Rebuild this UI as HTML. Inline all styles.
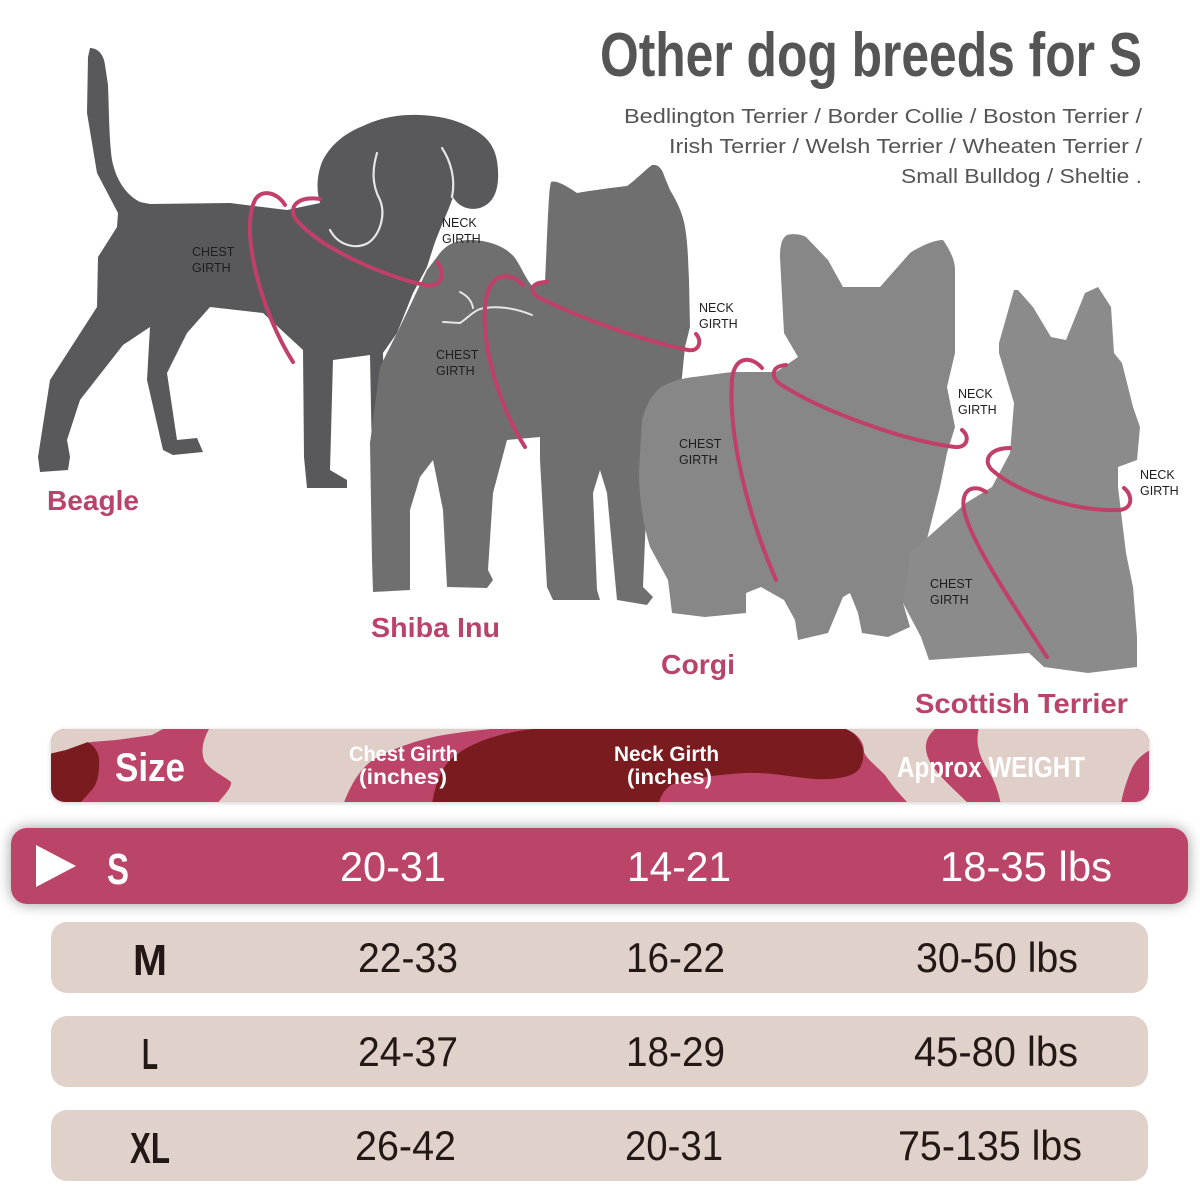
<!DOCTYPE html>
<html>
<head>
<meta charset="utf-8">
<style>
html,body{margin:0;padding:0;background:#fff;}
svg{display:block;}
</style>
</head>
<body>
<svg width="1200" height="1200" viewBox="0 0 1200 1200" xmlns="http://www.w3.org/2000/svg" font-family="'Liberation Sans', sans-serif">
<defs>
  <clipPath id="hdr"><rect x="51" y="729" width="1098" height="73" rx="14"/></clipPath>
  <filter id="sh" x="-5%" y="-40%" width="110%" height="180%">
    <feDropShadow dx="0" dy="0" stdDeviation="7" flood-color="#000" flood-opacity="0.4"/>
  </filter>
  <filter id="sh2" x="-5%" y="-40%" width="110%" height="180%">
    <feDropShadow dx="0" dy="1" stdDeviation="2" flood-color="#000" flood-opacity="0.2"/>
  </filter>
</defs>
<rect width="1200" height="1200" fill="#fff"/>

<!-- Title -->
<text x="600" y="76" font-size="62" font-weight="bold" fill="#555" textLength="542" lengthAdjust="spacingAndGlyphs">Other dog breeds for S</text>
<g font-size="20" fill="#555" text-anchor="end">
  <text x="1142" y="123" textLength="518" lengthAdjust="spacingAndGlyphs">Bedlington Terrier / Border Collie / Boston Terrier /</text>
  <text x="1142" y="153" textLength="473" lengthAdjust="spacingAndGlyphs">Irish Terrier / Welsh Terrier / Wheaten Terrier /</text>
  <text x="1142" y="183" textLength="241" lengthAdjust="spacingAndGlyphs">Small Bulldog / Sheltie .</text>
</g>

<!-- Beagle -->
<path fill="#59595b" d="M90,48 C98,48 104,55 105,65 L108,85 C109,110 109,140 112,160 C116,180 126,195 140,202 L150,204 L230,203 L287,210 L320,203 C316,190 317,175 322,162 C330,145 345,133 363,126 C380,118 398,114 420,115 C443,116 460,121 475,130 C490,139 497,150 498,170 C499,188 495,203 480,208 C468,211 458,206 453,197 C448,212 440,228 434,245 L427,267 L413,293 L397,333 L383,353 L385,457 L372,458 L370,355 L333,360 L330,470 L347,480 L347,488 L307,488 L304,457 L303,350 L263,313 L210,307 L187,333 L167,373 L177,440 L197,438 L203,452 L173,455 L163,450 L147,380 L150,327 L123,345 L80,400 L67,440 L70,457 L68,470 L40,472 L38,457 L50,380 L97,307 L98,257 L117,227 L118,213 L97,173 L87,113 L88,57 Z"/>
<g fill="none" stroke="#e6e6e6" stroke-width="2.2" stroke-linecap="round">
  <path d="M377,153 C372,170 372,185 380,200 C386,215 380,235 368,243 C355,250 338,245 330,230"/>
  <path d="M442,148 C450,160 456,178 452,197"/>
</g>

<!-- Shiba -->
<path fill="#6f6f6f" d="M437,257 C445,245 455,240 470,240 C485,240 505,245 515,258 C522,268 525,278 533,287 L545,283 C546,260 547,235 548,215 C549,200 549,190 551,182 C556,180 565,185 577,193 C595,190 610,188 627,186 C638,178 645,170 652,165 C658,164 662,168 665,178 L670,190 C678,203 683,215 685,227 C688,245 688,260 689,280 L690,327 L685,347 L682,377 L673,443 L657,460 L647,493 L643,587 L653,597 L647,605 L617,600 L607,493 L600,470 L593,493 L597,590 L600,600 L553,600 L547,587 L540,460 L540,437 L507,440 L493,493 L488,570 L493,580 L487,588 L447,587 L443,510 L433,460 L420,477 L410,510 L410,590 L373,592 L372,560 L370,443 L380,367 L400,327 L427,270 Z"/>
<g fill="none" stroke="#e6e6e6" stroke-width="2" stroke-linecap="round">
  <path d="M460,292 C468,296 472,302 473,308"/>
  <path d="M443,322 L460,323 C468,318 472,312 480,309 C495,305 515,308 532,315"/>
</g>

<!-- Corgi -->
<path fill="#878787" d="M661,387 C672,381 684,378 694,377 L732,372 L776,372 L798,357 L784,333 L780,257 C780,245 782,238 787,235 C795,233 802,235 806,237 L828,260 L843,287 L880,287 L910,253 C922,245 935,240 943,240 C950,250 955,260 955,270 L955,353 L947,387 L955,427 L947,453 L940,487 L925,547 L903,603 L910,627 L888,637 L862,633 L858,613 L850,593 L843,597 L828,633 L798,640 L795,620 L784,600 L761,587 L746,593 L746,613 L705,617 L672,613 L668,580 L650,547 C642,520 639,495 639,470 L642,420 C646,405 652,394 661,387 Z"/>

<!-- Scottie -->
<path fill="#8b8b8b" d="M999,343 L1014,290 L1018,290 L1033,307 L1051,337 L1066,340 L1085,293 L1098,287 L1111,307 L1114,353 L1122,363 L1133,407 L1140,427 L1137,460 L1118,467 L1118,487 L1122,520 L1126,553 L1133,587 L1137,637 L1137,667 L1088,673 L1044,667 L1029,653 L929,660 L921,637 L903,603 L910,553 L936,530 L966,503 L992,487 L1010,453 L1014,403 L999,353 Z"/>

<!-- Girth lines -->
<g fill="none" stroke="#c0406a" stroke-width="4" stroke-linecap="round">
  <path d="M293,362 C260,310 240,230 255,200 C262,188 278,193 285,205"/>
  <path d="M320,199 C300,196 288,205 295,218 C320,250 390,278 425,285 C445,288 445,270 437,262"/>
  <path d="M525,447 C495,400 478,330 487,295 C492,272 512,272 523,285"/>
  <path d="M547,282 C530,282 528,292 540,298 C580,318 640,340 688,350 C700,352 702,340 696,334"/>
  <path d="M776,580 C750,520 728,440 732,380 C734,355 752,356 762,368"/>
  <path d="M786,365 C772,366 770,376 780,384 C820,410 900,440 955,447 C968,448 970,436 962,430"/>
  <path d="M1010,448 C990,448 982,460 992,470 C1020,495 1080,512 1120,510 C1134,508 1132,494 1124,488"/>
  <path d="M1047,657 C1010,600 970,540 964,510 C960,488 975,484 986,492"/>
</g>

<!-- Girth labels -->
<g font-size="12.5" fill="#1e1e1e">
  <text x="192" y="256">CHEST</text><text x="192" y="272">GIRTH</text>
  <text x="442" y="227">NECK</text><text x="442" y="243">GIRTH</text>
  <text x="436" y="359">CHEST</text><text x="436" y="375">GIRTH</text>
  <text x="699" y="312">NECK</text><text x="699" y="328">GIRTH</text>
  <text x="679" y="448">CHEST</text><text x="679" y="464">GIRTH</text>
  <text x="958" y="398">NECK</text><text x="958" y="414">GIRTH</text>
  <text x="930" y="588">CHEST</text><text x="930" y="604">GIRTH</text>
  <text x="1140" y="479">NECK</text><text x="1140" y="495">GIRTH</text>
</g>

<!-- Breed names -->
<g font-size="28" font-weight="bold" fill="#b9436b">
  <text x="47" y="510" textLength="92" lengthAdjust="spacingAndGlyphs">Beagle</text>
  <text x="371" y="637" textLength="129" lengthAdjust="spacingAndGlyphs">Shiba Inu</text>
  <text x="661" y="674" textLength="74" lengthAdjust="spacingAndGlyphs">Corgi</text>
  <text x="915" y="713" textLength="213" lengthAdjust="spacingAndGlyphs">Scottish Terrier</text>
</g>

<!-- Header camo bar -->
<rect x="51" y="729" width="1098" height="73" rx="14" fill="#bb4468" filter="url(#sh2)"/>
<g clip-path="url(#hdr)">
  <rect x="40" y="720" width="1120" height="90" fill="#bb4468"/>
  <path fill="#e0cfc9" d="M40,720 L163,720 L163,729 L152,735 L116,740 L91,742 L66,752 L40,756 Z"/>
  <path fill="#7a1b1f" d="M40,756 L66,750 L88,742 C97,748 100,756 99,764 C99,776 97,785 90,792 L81,802 L40,810 Z"/>
  <path fill="#e0cfc9" d="M209,720 L491,720 L491,729 C470,731 455,733 438,736 C410,742 384,752 370,762 C358,772 350,786 341,810 L213,810 C218,800 232,790 231,782 C224,776 213,772 205,762 C200,752 203,740 209,729 Z"/>
  <path fill="#7a1b1f" d="M534,720 L846,720 L846,729 C853,732 857,736 860,742 C865,750 864,760 860,768 C855,776 840,780 814,779 C790,777 770,772 745,773 C715,775 690,778 671,785 C664,790 660,796 657,810 L431,810 C434,790 438,775 448,762 C465,745 495,733 534,729 Z"/>
  <path fill="#e0cfc9" d="M846,720 L935,720 L935,729 C925,738 923,748 930,762 C940,778 955,790 975,810 L915,810 C905,800 895,790 885,775 C875,765 866,758 864,752 C864,742 858,734 846,729 Z"/>
  <path fill="#e0cfc9" d="M980,720 L1160,720 L1160,746 C1148,750 1138,756 1132,768 C1126,782 1122,795 1120,810 L1002,810 C1000,798 996,782 988,770 C980,758 976,745 978,733 Z"/>
</g>
<g fill="#fff" font-weight="bold">
  <text x="115" y="781" font-size="40" textLength="70" lengthAdjust="spacingAndGlyphs">Size</text>
  <text x="349" y="761" font-size="21" textLength="109" lengthAdjust="spacingAndGlyphs">Chest Girth</text>
  <text x="359" y="784" font-size="21" textLength="88" lengthAdjust="spacingAndGlyphs">(inches)</text>
  <text x="614" y="761" font-size="21" textLength="105" lengthAdjust="spacingAndGlyphs">Neck Girth</text>
  <text x="627" y="784" font-size="21" textLength="85" lengthAdjust="spacingAndGlyphs">(inches)</text>
  <text x="897" y="777" font-size="29" textLength="188" lengthAdjust="spacingAndGlyphs">Approx WEIGHT</text>
</g>

<!-- S row -->
<rect x="11" y="828" width="1177" height="76" rx="16" fill="#bb4468" filter="url(#sh)"/>
<polygon points="36,845 76,866 36,887" fill="#fff"/>
<text x="107" y="884" font-size="44" font-weight="bold" fill="#fff" textLength="22" lengthAdjust="spacingAndGlyphs">S</text>
<g font-size="42" fill="#fff">
  <text x="340" y="881" textLength="106" lengthAdjust="spacingAndGlyphs">20-31</text>
  <text x="627" y="881" textLength="104" lengthAdjust="spacingAndGlyphs">14-21</text>
  <text x="940" y="881" textLength="172" lengthAdjust="spacingAndGlyphs">18-35 lbs</text>
</g>

<!-- M L XL rows -->
<rect x="51" y="922" width="1097" height="71" rx="16" fill="#e0d1cb"/>
<rect x="51" y="1016" width="1097" height="71" rx="16" fill="#e0d1cb"/>
<rect x="51" y="1110" width="1097" height="71" rx="16" fill="#e0d1cb"/>
<g font-size="44" font-weight="bold" fill="#231815">
  <text x="133" y="975" textLength="34" lengthAdjust="spacingAndGlyphs">M</text>
  <text x="142" y="1069" textLength="16" lengthAdjust="spacingAndGlyphs">L</text>
  <text x="130" y="1163" textLength="40" lengthAdjust="spacingAndGlyphs">XL</text>
</g>
<g font-size="42" fill="#231815">
  <text x="358" y="972" textLength="100" lengthAdjust="spacingAndGlyphs">22-33</text>
  <text x="626" y="972" textLength="99" lengthAdjust="spacingAndGlyphs">16-22</text>
  <text x="916" y="972" textLength="162" lengthAdjust="spacingAndGlyphs">30-50 lbs</text>
  <text x="358" y="1066" textLength="100" lengthAdjust="spacingAndGlyphs">24-37</text>
  <text x="626" y="1066" textLength="99" lengthAdjust="spacingAndGlyphs">18-29</text>
  <text x="914" y="1066" textLength="164" lengthAdjust="spacingAndGlyphs">45-80 lbs</text>
  <text x="355" y="1160" textLength="101" lengthAdjust="spacingAndGlyphs">26-42</text>
  <text x="625" y="1160" textLength="98" lengthAdjust="spacingAndGlyphs">20-31</text>
  <text x="898" y="1160" textLength="184" lengthAdjust="spacingAndGlyphs">75-135 lbs</text>
</g>
</svg>
</body>
</html>
